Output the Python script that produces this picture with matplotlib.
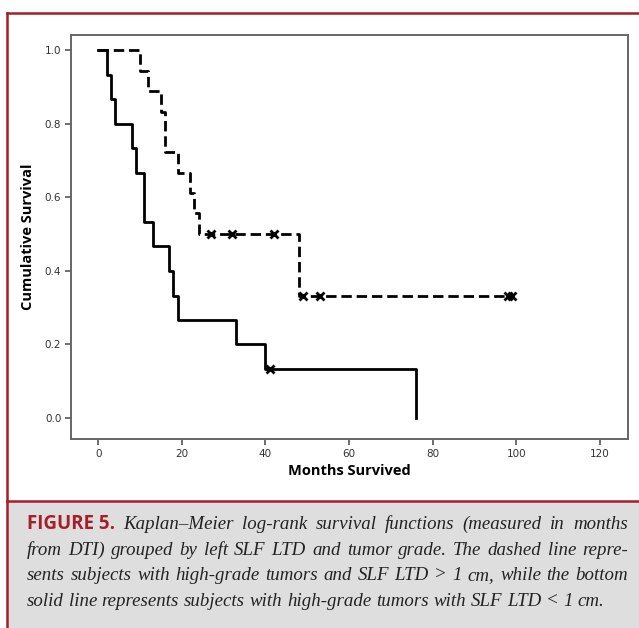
import matplotlib
matplotlib.use("Agg")
import matplotlib.pyplot as plt
from matplotlib.patches import Rectangle
from matplotlib.lines import Line2D

# dashed group: high-grade tumors, SLF LTD > 1 cm
dash_t = [0, 10, 12, 15, 16, 19, 22, 23, 24, 48, 99]
dash_s = [1.0, 0.944, 0.889, 0.833, 0.722, 0.667, 0.611, 0.556, 0.5, 0.333, 0.333]
dash_cens_t = [27, 32, 42, 49, 53, 98, 99]
dash_cens_s = [0.5, 0.5, 0.5, 0.333, 0.333, 0.333, 0.333]

# solid group: high-grade tumors, SLF LTD < 1 cm
solid_t = [0, 2, 3, 4, 8, 9, 11, 13, 17, 18, 19, 33, 40, 76]
solid_s = [1.0, 0.933, 0.867, 0.8, 0.733, 0.667, 0.533, 0.467, 0.4, 0.333, 0.267, 0.2, 0.133, 0.0]
solid_cens_t = [41]
solid_cens_s = [0.133]

xticks = [0, 20, 40, 60, 80, 100, 120]
yticks = [0.0, 0.2, 0.4, 0.6, 0.8, 1.0]

caption_lines = [
    "Kaplan\u2013Meier log-rank survival functions (measured in months",
    "from DTI) grouped by left SLF LTD and tumor grade. The dashed line repre-",
    "sents subjects with high-grade tumors and SLF LTD > 1 cm, while the bottom",
    "solid line represents subjects with high-grade tumors with SLF LTD < 1 cm.",
]

W, H = 639, 628
plt.rcParams['lines.scale_dashes'] = False
fig = plt.figure(figsize=(W / 100, H / 100), dpi=100)
fig.patch.set_facecolor('white')

red = '#a51f2b'
# caption box and red frame
fig.add_artist(Rectangle((7 / W, 0), 1, (H - 501) / H, transform=fig.transFigure,
                         facecolor='#dedede', edgecolor='none', zorder=0))
for xs, ys in [([7, W], [H - 12.5, H - 12.5]), ([7, 7], [0, H - 12.5]), ([7, W], [H - 501, H - 501])]:
    fig.add_artist(Line2D([x / W for x in xs], [y / H for y in ys], transform=fig.transFigure,
                          color=red, lw=1.8, zorder=2))

ax = fig.add_axes([71 / W, 1 - 439 / H, (628 - 71) / W, (439 - 35) / H])
ax.step(dash_t, dash_s, where='post', color='black', lw=2.0, linestyle=(0, (7.5, 3.5)))
ax.step(solid_t, solid_s, where='post', color='black', lw=2.0)
ax.plot(dash_cens_t, dash_cens_s, 'x', color='black', ms=6, mew=2)
ax.plot(solid_cens_t, solid_cens_s, 'x', color='black', ms=6, mew=2)

ax.set_xlim(-6.5, 126.7)
ax.set_ylim(-0.057, 1.041)
ax.set_xticks(xticks)
ax.set_xticklabels([str(v) for v in xticks])
ax.set_yticks(yticks)
ax.set_yticklabels(['%.1f' % v for v in yticks])
ax.tick_params(direction='out', length=4, width=1.2, color='#555555',
               labelsize=7.5, labelcolor='#333333', pad=3)
for sp in ax.spines.values():
    sp.set_color('#666666')
    sp.set_linewidth(1.4)
ax.set_xlabel('Months Survived', fontsize=10.5, fontweight='bold', family='Open Sans', labelpad=4)
ax.set_ylabel('Cumulative Survival', fontsize=10.5, fontweight='bold', family='Open Sans', labelpad=7)

# justified caption text
renderer = fig.canvas.get_renderer()
x_left, x_right = 27, 628
baselines = [529, 555, 580, 606]
serif = dict(family='Liberation Serif', style='italic', fontsize=13.6, color='#222222')


def place_line(tokens, y, justify):
    texts = []
    for s, kw in tokens:
        t = fig.text(0, 1 - y / H, s, va='baseline', ha='left', **kw)
        texts.append(t)
    widths = [t.get_window_extent(renderer).width for t in texts]
    if justify and len(texts) > 1:
        gap = (x_right - x_left - sum(widths)) / (len(texts) - 1)
    else:
        gap = renderer.points_to_pixels(13.6) * 0.25
    x = x_left
    for t, w in zip(texts, widths):
        t.set_x(x / W)
        x += w + gap


first = [("FIGURE 5.", dict(family='Open Sans', fontweight='bold', fontsize=13.5, color=red))]
first += [(w, serif) for w in caption_lines[0].split()]
place_line(first, baselines[0], True)
place_line([(w, serif) for w in caption_lines[1].split()], baselines[1], True)
place_line([(w, serif) for w in caption_lines[2].split()], baselines[2], True)
place_line([(w, serif) for w in caption_lines[3].split()], baselines[3], False)

fig.savefig('out.png', dpi=100)
